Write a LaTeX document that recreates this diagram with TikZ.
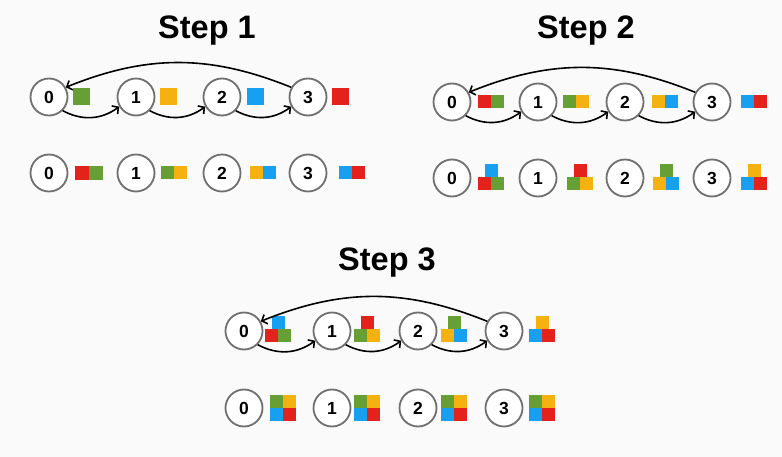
\documentclass[tikz,border=0pt]{standalone}
\usepackage{fontspec}
\setmainfont{Liberation Sans}
\usetikzlibrary{arrows.meta}
\definecolor{bggray}{HTML}{FAFAFA}
\definecolor{ringgray}{HTML}{707070}
\definecolor{sqgreen}{HTML}{66A035}
\definecolor{sqorange}{HTML}{F5B10F}
\definecolor{sqblue}{HTML}{18A0F0}
\definecolor{sqred}{HTML}{E4221C}
\tikzset{
  vtx/.style={circle, draw=ringgray, line width=1.8pt, fill=white, minimum size=37pt, inner sep=0pt, font=\fontsize{17.5}{18}\selectfont\bfseries},
  steptitle/.style={anchor=base, font=\fontsize{32.5}{34}\selectfont\bfseries},
  hop/.style={-{Straight Barb[length=4.5pt,width=10pt]}, line width=1.6pt, bend right=32},
  wrap/.style={-{Straight Barb[length=4.5pt,width=10pt]}, line width=1.6pt, bend right=22}
}
\newcommand{\colsq}[4]{\fill[#1] (#2,#3) rectangle +(#4,#4);}
\begin{document}
\begin{tikzpicture}[x=1pt,y=-1pt]
	\fill[bggray] (0,0) rectangle (782,457);
	\useasboundingbox (0,0) rectangle (782,457);
	% step 1
	\node[steptitle] (t1) at (207,39) {Step 1};
	\node[vtx] (a0) at (49,97) {0};
	\node[vtx] (a1) at (136,97) {1};
	\node[vtx] (a2) at (222,97) {2};
	\node[vtx] (a3) at (308,97) {3};
	\colsq{sqgreen}{73}{88.5}{17}
	\colsq{sqorange}{160}{88.5}{17}
	\colsq{sqblue}{247}{88.5}{17}
	\colsq{sqred}{332}{88.5}{17}
	\draw[hop] (a0.-45) to (a1.-150);
	\draw[hop] (a1.-45) to (a2.-150);
	\draw[hop] (a2.-45) to (a3.-150);
	\draw[wrap] (a3.150) to (a0.30);
	\node[vtx] (b0) at (49,173) {0};
	\node[vtx] (b1) at (136,173) {1};
	\node[vtx] (b2) at (222,173) {2};
	\node[vtx] (b3) at (308,173) {3};
	\colsq{sqred}{75}{166.5}{14}   \colsq{sqgreen}{89}{166.5}{14}
	\colsq{sqgreen}{161}{166.5}{13} \colsq{sqorange}{174}{166.5}{13}
	\colsq{sqorange}{250}{166.5}{13} \colsq{sqblue}{263}{166.5}{13}
	\colsq{sqblue}{339}{166.5}{13} \colsq{sqred}{352}{166.5}{13}
	% step 2
	\node[steptitle] (t2) at (586,39) {Step 2};
	\node[vtx] (c0) at (452,102) {0};
	\node[vtx] (c1) at (538,102) {1};
	\node[vtx] (c2) at (625,102) {2};
	\node[vtx] (c3) at (712,102) {3};
	\colsq{sqred}{478}{95}{13} \colsq{sqgreen}{491}{95}{13}
	\colsq{sqgreen}{563}{95}{13} \colsq{sqorange}{576}{95}{13}
	\colsq{sqorange}{652}{95}{13} \colsq{sqblue}{665}{95}{13}
	\colsq{sqblue}{741}{95}{13} \colsq{sqred}{754}{95}{13}
	\draw[hop] (c0.-45) to (c1.-150);
	\draw[hop] (c1.-45) to (c2.-150);
	\draw[hop] (c2.-45) to (c3.-150);
	\draw[wrap] (c3.150) to (c0.30);
	\node[vtx] (d0) at (452,178) {0};
	\node[vtx] (d1) at (538,178) {1};
	\node[vtx] (d2) at (625,178) {2};
	\node[vtx] (d3) at (712,178) {3};
	\colsq{sqblue}{484.5}{164}{13}
	\colsq{sqred}{478}{177}{13} \colsq{sqgreen}{491}{177}{13}
	\colsq{sqred}{573.5}{164}{13}
	\colsq{sqgreen}{567}{177}{13} \colsq{sqorange}{580}{177}{13}
	\colsq{sqgreen}{659.5}{164}{13}
	\colsq{sqorange}{653}{177}{13} \colsq{sqblue}{666}{177}{13}
	\colsq{sqorange}{747.5}{164}{13}
	\colsq{sqblue}{741}{177}{13} \colsq{sqred}{754}{177}{13}
	% step 3
	\node[steptitle] (t3) at (387,271) {Step 3};
	\node[vtx] (e0) at (244,331) {0};
	\node[vtx] (e1) at (332,331) {1};
	\node[vtx] (e2) at (418,331) {2};
	\node[vtx] (e3) at (504,331) {3};
	\colsq{sqblue}{271.5}{316}{13}
	\colsq{sqred}{265}{329}{13} \colsq{sqgreen}{278}{329}{13}
	\colsq{sqred}{360.5}{316}{13}
	\colsq{sqgreen}{354}{329}{13} \colsq{sqorange}{367}{329}{13}
	\colsq{sqgreen}{447.5}{316}{13}
	\colsq{sqorange}{441}{329}{13} \colsq{sqblue}{454}{329}{13}
	\colsq{sqorange}{535.5}{316}{13}
	\colsq{sqblue}{529}{329}{13} \colsq{sqred}{542}{329}{13}
	\draw[hop] (e0.-45) to (e1.-150);
	\draw[hop] (e1.-45) to (e2.-150);
	\draw[hop] (e2.-45) to (e3.-150);
	\draw[wrap] (e3.150) to (e0.30);
	\node[vtx] (f0) at (244,408) {0};
	\node[vtx] (f1) at (332,408) {1};
	\node[vtx] (f2) at (418,408) {2};
	\node[vtx] (f3) at (504,408) {3};
	\colsq{sqgreen}{270}{395}{13} \colsq{sqorange}{283}{395}{13}
	\colsq{sqblue}{270}{408}{13} \colsq{sqred}{283}{408}{13}
	\colsq{sqgreen}{354}{395}{13} \colsq{sqorange}{367}{395}{13}
	\colsq{sqblue}{354}{408}{13} \colsq{sqred}{367}{408}{13}
	\colsq{sqgreen}{441}{395}{13} \colsq{sqorange}{454}{395}{13}
	\colsq{sqblue}{441}{408}{13} \colsq{sqred}{454}{408}{13}
	\colsq{sqgreen}{529}{395}{13} \colsq{sqorange}{542}{395}{13}
	\colsq{sqblue}{529}{408}{13} \colsq{sqred}{542}{408}{13}
\end{tikzpicture}
\end{document}
